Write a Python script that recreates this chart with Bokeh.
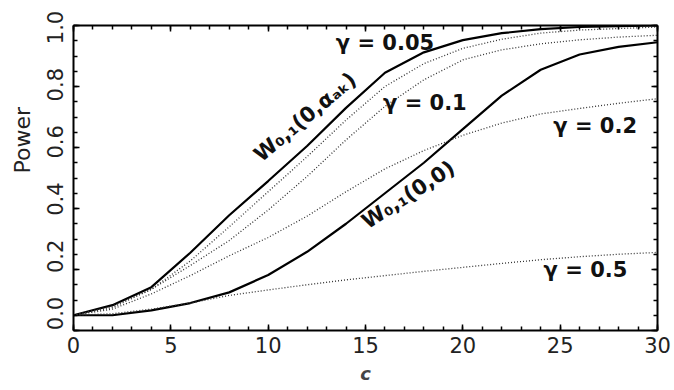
import math
from bokeh.plotting import figure
from bokeh.models import (Range1d, LinearAxis, SingleIntervalTicker, FixedTicker, Label,
                          Title, CustomJSTickFormatter, NumeralTickFormatter)
from bokeh.embed import file_html
from bokeh.resources import INLINE

# ---- data ----
c = [0, 2, 4, 6, 8, 10, 12, 14, 16, 18, 20, 22, 24, 26, 28, 30]
w_alpha_ak = [0.05, 0.083, 0.142, 0.255, 0.378, 0.49, 0.605, 0.73, 0.845, 0.912, 0.952, 0.975, 0.988, 0.995, 0.998, 1.0]
gamma_005 = [0.05, 0.08, 0.135, 0.228, 0.34, 0.455, 0.57, 0.69, 0.80, 0.875, 0.925, 0.955, 0.975, 0.985, 0.99, 0.995]
gamma_01 = [0.05, 0.075, 0.135, 0.213, 0.295, 0.395, 0.505, 0.625, 0.735, 0.822, 0.887, 0.92, 0.94, 0.953, 0.962, 0.968]
gamma_02 = [0.05, 0.07, 0.12, 0.18, 0.245, 0.305, 0.375, 0.455, 0.53, 0.59, 0.64, 0.68, 0.71, 0.728, 0.745, 0.76]
w_00 = [0.05, 0.05, 0.066, 0.09, 0.125, 0.182, 0.258, 0.35, 0.45, 0.55, 0.66, 0.77, 0.855, 0.905, 0.93, 0.945]
gamma_05 = [0.05, 0.055, 0.07, 0.09, 0.115, 0.133, 0.15, 0.166, 0.18, 0.194, 0.207, 0.22, 0.232, 0.242, 0.25, 0.256]

y_tick_values = [0.0, 0.2, 0.4, 0.6, 0.8, 1.0]

x_ticks_interval = 5
y_ticks_interval = 0.2

labels = [
    ("γ = 0.05", 16.0, 0.944, 0.0),
    ("γ = 0.1", 18.05, 0.746, 0.0),
    ("γ = 0.2", 26.8, 0.672, 0.0),
    ("γ = 0.5", 26.3, 0.20, 0.0),
    ("W₀,₁(0,αₐₖ)", 11.9, 0.70, 40.0),
    ("W₀,₁(0,0)", 17.2, 0.445, 33.0),
]

FONT = "DejaVu Sans"

p = figure(width=674, height=390, output_backend="svg", toolbar_location=None,
           x_range=Range1d(0, 30), y_range=Range1d(0, 1), y_axis_location=None,
           min_border_left=73, min_border_right=17, min_border_top=25, min_border_bottom=60)
p.grid.visible = False
p.outline_line_color = None
p.background_fill_color = "white"
p.border_fill_color = "white"
# range used only to place the (slightly compressed) y tick labels like the reference
p.extra_y_ranges = {"lab": Range1d(-0.0594, 1.007)}

def style_axis(ax, interval, minors, show_labels=True):
    ax.ticker = SingleIntervalTicker(interval=interval, num_minor_ticks=minors)
    ax.axis_line_width = 2
    ax.axis_line_color = "black"
    ax.major_tick_in = 6
    ax.major_tick_out = 0
    ax.minor_tick_in = 4
    ax.minor_tick_out = 0
    ax.major_tick_line_width = 1.5
    ax.minor_tick_line_width = 1.5
    ax.major_tick_line_color = "black"
    ax.minor_tick_line_color = "black"
    if show_labels:
        ax.major_label_text_font = FONT
        ax.major_label_text_font_size = "21px"
        ax.major_label_text_color = "#222222"
    else:
        ax.formatter = CustomJSTickFormatter(code="return ''")
        ax.major_label_standoff = 0

style_axis(p.xaxis[0], x_ticks_interval, 5)
p.xaxis.major_label_standoff = 6
p.xaxis.axis_label = "c"
p.xaxis.axis_label_text_font = FONT
p.xaxis.axis_label_text_font_style = "bold italic"
p.xaxis.axis_label_text_font_size = "18px"
p.xaxis.axis_label_standoff = 7

left_ticks = LinearAxis()
style_axis(left_ticks, y_ticks_interval, 4, show_labels=False)
p.add_layout(left_ticks, "left")

left_labels = LinearAxis(y_range_name="lab", ticker=FixedTicker(ticks=y_tick_values),
                         formatter=NumeralTickFormatter(format="0.0"))
left_labels.axis_line_color = None
left_labels.major_tick_line_color = None
left_labels.minor_tick_line_color = None
left_labels.major_tick_in = 0
left_labels.major_tick_out = 0
left_labels.minor_tick_in = 0
left_labels.minor_tick_out = 0
left_labels.major_label_orientation = "vertical"
left_labels.major_label_standoff = 10
left_labels.major_label_text_font = FONT
left_labels.major_label_text_font_size = "21px"
left_labels.major_label_text_color = "#222222"
p.add_layout(left_labels, "left")

p.add_layout(Title(text="Power", align="left", offset=157, standoff=16,
                   vertical_align="top",
                   text_font=FONT, text_font_size="22px", text_font_style="normal",
                   text_color="#222222"), "left")

top = LinearAxis()
style_axis(top, x_ticks_interval, 5, show_labels=False)
p.add_layout(top, "above")
right = LinearAxis()
style_axis(right, y_ticks_interval, 4, show_labels=False)
p.add_layout(right, "right")

solid_kw = dict(line_color="black", line_width=2.2)
dot_kw = dict(line_color="#333333", line_width=1.3, line_dash="1 2")

p.line(c, w_alpha_ak, **solid_kw)
p.line(c, w_00, **solid_kw)
p.line(c, gamma_005, **dot_kw)
p.line(c, gamma_01, **dot_kw)
p.line(c, gamma_02, **dot_kw)
p.line(c, gamma_05, **dot_kw)

for txt, x, y, ang in labels:
    p.add_layout(Label(x=x, y=y, text=txt, angle=math.radians(ang),
                       text_align="center", text_baseline="middle",
                       text_font=FONT, text_font_size="21px", text_font_style="bold",
                       text_color="#111111"))

open("out.html", "w").write(file_html(p, INLINE))
